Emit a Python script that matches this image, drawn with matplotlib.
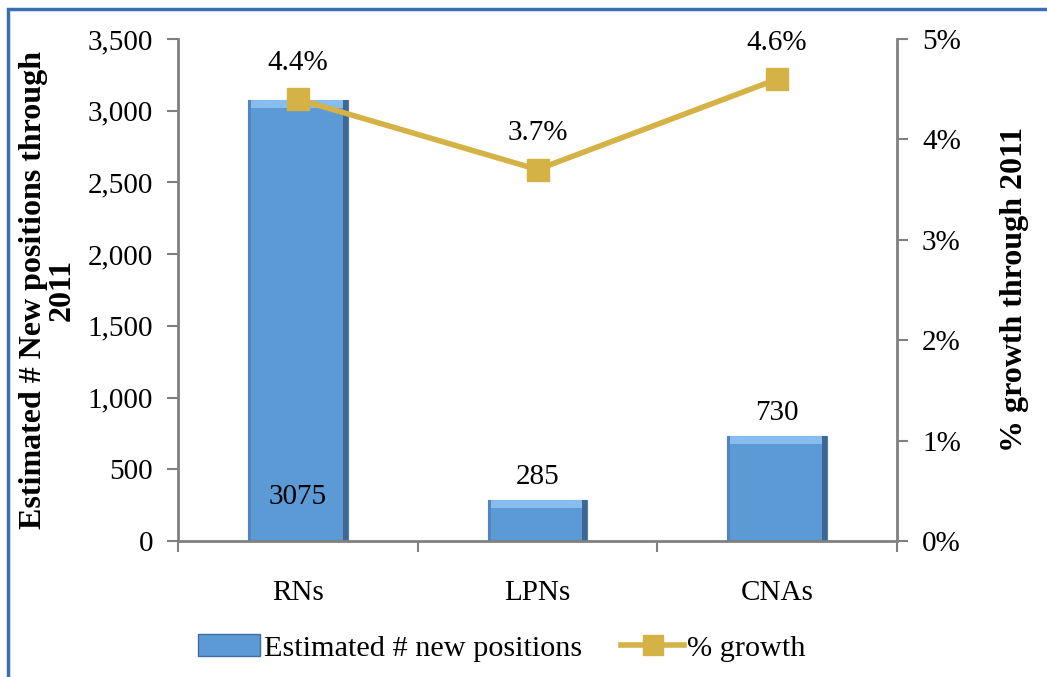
import matplotlib
matplotlib.use("Agg")
import matplotlib.pyplot as plt
from matplotlib.patches import Rectangle
from matplotlib.lines import Line2D
from matplotlib.ticker import FuncFormatter

categories = ["RNs", "LPNs", "CNAs"]
new_positions = [3075, 285, 730]
growth_pct = [4.4, 3.7, 4.6]
bar_labels = ["3075", "285", "730"]
growth_labels = ["4.4%", "3.7%", "4.6%"]
left_ticks = [0, 500, 1000, 1500, 2000, 2500, 3000, 3500]
right_ticks = [0, 1, 2, 3, 4, 5]

plt.rcParams['font.family'] = ['Liberation Serif', 'DejaVu Serif']
FS = 21
LFS = 23

W, H = 1047, 677
fig = plt.figure(figsize=(W / 100, H / 100), dpi=100)
ax = fig.add_axes([178 / W, 1 - 541 / H, (897 - 178) / W, (541 - 39) / H])
ax2 = ax.twinx()

x = list(range(len(categories)))
bar_color = '#5c9ad6'
bars = ax.bar(x, new_positions, width=0.415, color=bar_color, edgecolor='#4a7db0', linewidth=0.8, zorder=2)
# bevel styling: light top band, darker right edge
band_h = 55
strip_w = 0.02
for r in bars:
    bx, bw, bh = r.get_x(), r.get_width(), r.get_height()
    ax.add_patch(Rectangle((bx, bh - band_h), bw, band_h, facecolor='#86bdee', edgecolor='none', zorder=2.1))
    ax.add_patch(Rectangle((bx + bw - strip_w, 0), strip_w, bh, facecolor='#3e6892', edgecolor='none', zorder=2.2))
    ax.add_patch(Rectangle((bx, 0), strip_w * 0.6, bh, facecolor='#4f86bd', edgecolor='none', zorder=2.2))

ax.set_xlim(-0.5, 2.5)
ax.set_ylim(0, 3500)
ax.set_yticks(left_ticks)
ax.yaxis.set_major_formatter(FuncFormatter(lambda v, p: f"{int(v):,}"))
ax.set_xticks([i - 0.5 for i in range(len(categories) + 1)], minor=False)
ax.set_xticklabels([])
ax.set_xticks(x, minor=True)
ax.set_xticklabels(categories, minor=True, fontsize=FS)
ax.tick_params(axis='x', which='minor', length=0, pad=28)
ax.tick_params(axis='x', which='major', length=8, width=1.5, color='#808080', direction='out')
ax.tick_params(axis='y', length=8, width=1.5, color='#808080', labelsize=FS, pad=10)

for s in ['top', 'right']:
    ax.spines[s].set_visible(False)
for s in ['left', 'bottom']:
    ax.spines[s].set_color('#808080')
    ax.spines[s].set_linewidth(2)
ax.spines['bottom'].set_zorder(3)

for s in ['top', 'left', 'bottom']:
    ax2.spines[s].set_visible(False)
ax2.spines['right'].set_color('#808080')
ax2.spines['right'].set_linewidth(2)

line_color = '#d4b245'
ax2.plot(x, growth_pct, color=line_color, linewidth=4, marker='s', markersize=16, zorder=3)
ax2.set_ylim(0, 5)
ax2.set_yticks(right_ticks)
ax2.yaxis.set_major_formatter(FuncFormatter(lambda v, p: f"{int(v)}%"))
ax2.tick_params(axis='y', length=8, width=1.5, color='#808080', labelsize=FS, pad=10)

ax.set_ylabel("Estimated # New positions through\n2011", fontsize=LFS, fontweight='bold', labelpad=8, linespacing=0.95)
ax2.set_ylabel("% growth through 2011", fontsize=LFS, fontweight='bold', labelpad=28)

# bar data labels
ax.text(x[0], 310, bar_labels[0], ha='center', va='center', fontsize=FS, zorder=5)
for i in (1, 2):
    ax.text(x[i], new_positions[i] + 70, bar_labels[i], ha='center', va='bottom', fontsize=FS, zorder=5)
for i in range(3):
    ax2.text(x[i], growth_pct[i] + 0.23, growth_labels[i], ha='center', va='bottom', fontsize=FS, zorder=5)

handles = [Rectangle((0, 0), 1, 1, facecolor=bar_color, edgecolor='#3f6f9f'),
           Line2D([0], [0], color=line_color, linewidth=4, marker='s', markersize=14)]
fig.legend(handles, ["Estimated # new positions", "% growth"], loc='center',
           bbox_to_anchor=(502 / W, 1 - 648 / H), ncol=2, frameon=False, fontsize=21.8,
           handlelength=2.05, handletextpad=0.12, columnspacing=1.3)

# outer chart border (partially cropped)
fig.add_artist(Rectangle((8 / W, -0.1), 1.2, 1 - 9 / H + 0.1, transform=fig.transFigure,
                         fill=False, edgecolor='#3c6eb4', linewidth=2.5))

fig.savefig("out.png", dpi=100)
